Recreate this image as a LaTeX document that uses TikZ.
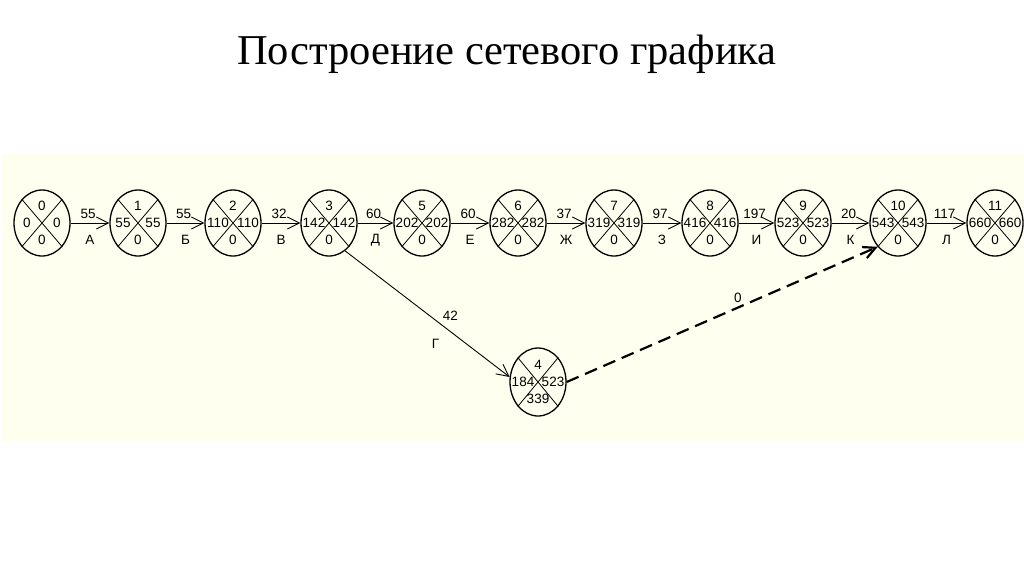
\documentclass[tikz,border=0pt]{standalone}
\usepackage{fontspec}
\setmainfont{Liberation Serif}
\setsansfont{Liberation Sans}
\usetikzlibrary{shapes.geometric,arrows.meta}
\definecolor{paper}{HTML}{FFFFF0}

\begin{document}
\begin{tikzpicture}[x=1pt, y=-1pt,
  event/.style={ellipse, draw, line width=1.3pt, minimum width=56pt, minimum height=66pt, inner sep=0pt},
  num/.style={font=\sffamily\fontsize{13.5}{14}\selectfont, inner sep=0pt},
  work/.style={-{Straight Barb[length=12pt,width=12pt]}, line width=0.9pt},
  dummy/.style={-{Straight Barb[length=12pt,width=12pt]}, line width=2.2pt, dash pattern=on 13pt off 7pt}
]
  \useasboundingbox (0,0) rectangle (1024,574);
  \fill[paper] (2,154) rectangle (1024,442);
  \node[font=\fontsize{42.5}{50}\selectfont] (title) at (507,54) {Построение сетевого графика};

  % Events: number/x
  \foreach \i/\x in {0/42, 1/138, 2/233, 3/329, 5/422, 6/518, 7/614, 8/710, 9/803, 10/898, 11/995}{
    \node[event] (n\i) at (\x,223) {};
  }
  \node[event, minimum height=68pt] (n4) at (538,382) {};

  % Sectors: number/early/late/reserve
  \foreach \i/\e/\l/\r in {0/0/0/0, 1/55/55/0, 2/110/110/0, 3/142/142/0, 4/184/523/339, 5/202/202/0,
    6/282/282/0, 7/319/319/0, 8/416/416/0, 9/523/523/0, 10/543/543/0, 11/660/660/0}{
    \draw[line width=0.8pt] (n\i.north west) -- (n\i.south east) (n\i.north east) -- (n\i.south west);
    \node[num, yshift=17pt]  (t\i) at (n\i) {\i};
    \node[num, yshift=-17pt] (b\i) at (n\i) {\r};
    \node[num, xshift=-15pt] (l\i) at (n\i) {\e};
    \node[num, xshift=15pt]  (r\i) at (n\i) {\l};
  }

  % Works
  \foreach \a/\b/\w/\t in {0/1/55/А, 1/2/55/Б, 2/3/32/В, 3/5/60/Д, 5/6/60/Е, 6/7/37/Ж,
    7/8/97/З, 8/9/197/И, 9/10/20/К, 10/11/117/Л}{
    \draw[work] (n\a.east) -- node[num, pos=0.45, yshift=9pt] (w\a) {\w}
      node[num, pos=0.5, yshift=-17pt] (c\a) {\t} (n\b.west);
  }
  \draw[work] (n3.-60) -- node[num, pos=0.64, yshift=16pt] (w3g) {42}
    node[num, pos=0.55, yshift=-24pt] (c3g) {Г} (n4.170);
  \draw[dummy] (n4.east) -- node[num, pos=0.55, yshift=10pt] (w4) {0} (n10.south west);
\end{tikzpicture}
\end{document}
